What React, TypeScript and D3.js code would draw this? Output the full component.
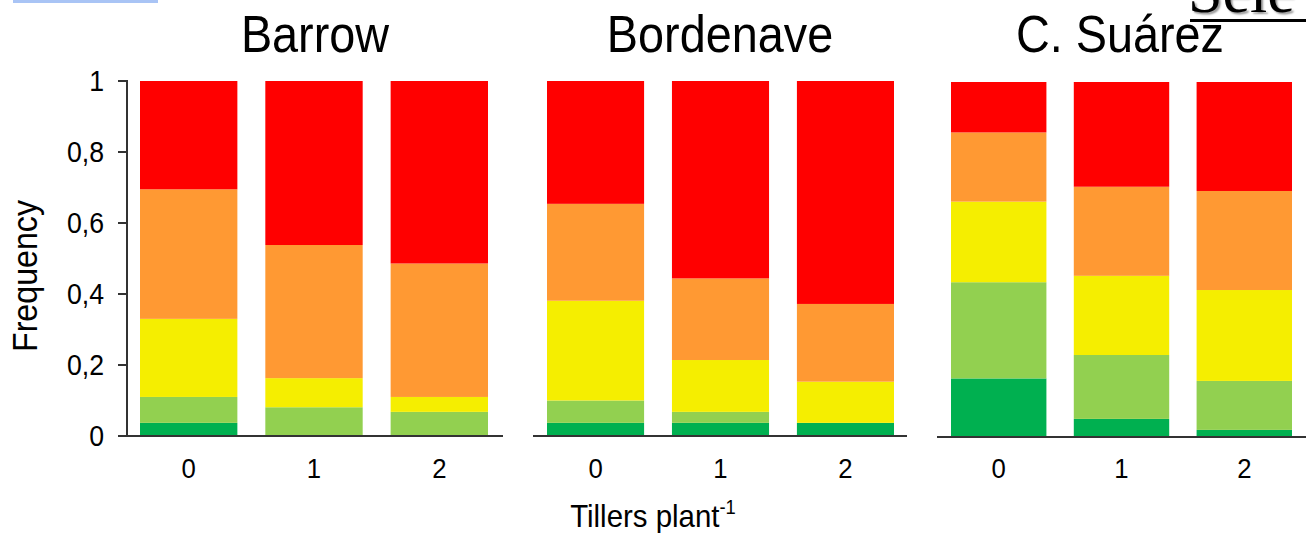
import React from "react";
import * as d3 from "d3";

// ---- data ----
const sites = ["Barrow", "Bordenave", "C. Suárez"];
const tillers = ["0", "1", "2"];
const classes = ["darkGreen", "lightGreen", "yellow", "orange", "red"];
const classColors = ["#00B050", "#92D050", "#F5EE00", "#FF9933", "#FF0000"];
// values indexed [site][tiller]
const darkGreen = [
  [0.037, 0.0, 0.0],
  [0.037, 0.037, 0.037],
  [0.165, 0.051, 0.02],
];
const lightGreen = [
  [0.073, 0.081, 0.068],
  [0.063, 0.031, 0.0],
  [0.271, 0.18, 0.138],
];
const yellow = [
  [0.22, 0.082, 0.042],
  [0.281, 0.146, 0.116],
  [0.227, 0.223, 0.256],
];
const orange = [
  [0.365, 0.375, 0.376],
  [0.273, 0.23, 0.219],
  [0.195, 0.251, 0.279],
];
const red = [
  [0.305, 0.462, 0.514],
  [0.346, 0.556, 0.628],
  [0.142, 0.295, 0.307],
];
const yTicks = [0, 0.2, 0.4, 0.6, 0.8, 1];
const yAxisTitle = "Frequency";
const xAxisTitle = "Tillers plant";

// ---- layout ----
const W = 1306;
const H = 533;
const FONT = "'Liberation Sans', Arial, Helvetica, sans-serif";
const panels = [
  { barL: 140, barR: 488, axL: 127, axR: 503, y0: 436, y1: 81, title: 315, yAxis: true },
  { barL: 547, barR: 894, axL: 533, axR: 907, y0: 436, y1: 81, title: 720, yAxis: false },
  { barL: 951, barR: 1292, axL: 937, axR: 1306, y0: 437, y1: 82, title: 1120, yAxis: false },
];

const seriesArrays = [darkGreen, lightGreen, yellow, orange, red];

// horizontally condensed text, like the reference
function CText({ x, y, sx, children, ...rest }: any) {
  return (
    <g transform={`translate(${x},${y}) scale(${sx},1)`}>
      <text x={0} y={0} {...rest}>
        {children}
      </text>
    </g>
  );
}

export default function App() {
  return (
    <svg
      width={W}
      height={H}
      style={{ position: "absolute", left: 0, top: 0, background: "#fff" }}
      fontFamily={FONT}
    >
      <rect x={0} y={0} width={W} height={H} fill="#fff" />
      {/* artifacts from the source screenshot */}
      <rect x={13} y={0} width={145} height={3} fill="#a9c4f5" />
      <text
        x={1188}
        y={12}
        fontFamily="'Liberation Serif', 'DejaVu Serif', serif"
        fontSize={62}
        fill="#000"
        style={{ textShadow: "2px 2px 2px #999" }}
      >
        Sele
      </text>
      <rect x={1190} y={19} width={116} height={3} fill="#000" />

      {sites.map((site, si) => {
        const p = panels[si];
        const x = d3.scaleBand<string>().domain(tillers).range([p.barL, p.barR]).paddingInner(0.223).paddingOuter(0);
        const y = d3.scaleLinear().domain([0, 1]).range([p.y0, p.y1]);
        const rows = tillers.map((t, ti) => {
          const r: any = { tiller: t };
          classes.forEach((c, ci) => (r[c] = seriesArrays[ci][si][ti]));
          return r;
        });
        const stacked = d3.stack<any>().keys(classes)(rows);
        return (
          <g key={site}>
            <CText x={p.title} y={52} sx={0.9} textAnchor="middle" fontSize={52} fill="#000">
              {site}
            </CText>
            {stacked.map((layer, li) => (
              <g key={layer.key} fill={classColors[li]}>
                {layer.map((d, di) => {
                  const h = y(d[0]) - y(d[1]);
                  if (h <= 0.01) return null;
                  return (
                    <rect
                      key={di}
                      x={x(tillers[di])}
                      y={y(d[1])}
                      width={x.bandwidth()}
                      height={h}
                    />
                  );
                })}
              </g>
            ))}
            <line x1={p.axL} x2={p.axR} y1={p.y0} y2={p.y0} stroke="#333" strokeWidth={2} />
            {p.yAxis && (
              <g>
                <line x1={p.axL} x2={p.axL} y1={p.y1 - 1} y2={p.y0} stroke="#333" strokeWidth={2} />
                {yTicks.map((t) => (
                  <g key={t}>
                    <line x1={p.axL - 9} x2={p.axL} y1={y(t)} y2={y(t)} stroke="#333" strokeWidth={2} />
                    <CText
                      x={104}
                      y={y(t)}
                      sx={0.92}
                      dy="0.36em"
                      textAnchor="end"
                      fontSize={29}
                      fill="#000"
                    >
                      {String(t).replace(".", ",")}
                    </CText>
                  </g>
                ))}
              </g>
            )}
            {tillers.map((t) => (
              <CText
                key={t}
                x={(x(t) as number) + x.bandwidth() / 2}
                y={478}
                sx={0.92}
                textAnchor="middle"
                fontSize={28}
                fill="#000"
              >
                {t}
              </CText>
            ))}
          </g>
        );
      })}

      <g transform="translate(37,276) rotate(-90) scale(0.92,1)">
        <text x={0} y={0} textAnchor="middle" fontSize={35} fill="#000">
          {yAxisTitle}
        </text>
      </g>
      <CText x={653} y={527} sx={0.92} textAnchor="middle" fontSize={32} fill="#000">
        {xAxisTitle}
        <tspan fontSize={20} dy={-13}>-1</tspan>
      </CText>
    </svg>
  );
}
